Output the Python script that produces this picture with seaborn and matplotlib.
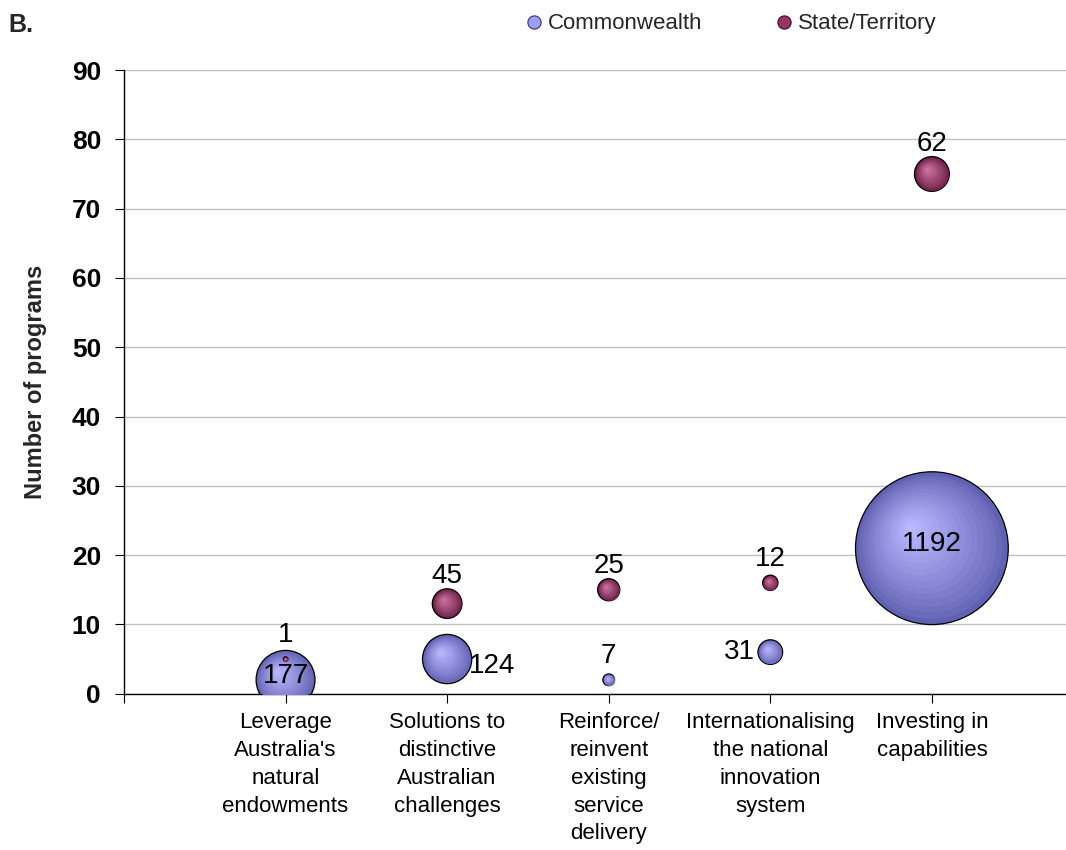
import numpy as np
import pandas as pd
import matplotlib
matplotlib.use("Agg")
import matplotlib.pyplot as plt
from matplotlib.transforms import offset_copy
from matplotlib.lines import Line2D
import seaborn as sns

# ---- data -------------------------------------------------------------
categories = [
    "Leverage\nAustralia's\nnatural\nendowments",
    "Solutions to\ndistinctive\nAustralian\nchallenges",
    "Reinforce/\nreinvent\nexisting\nservice\ndelivery",
    "Internationalising\nthe national\ninnovation\nsystem",
    "Investing in\ncapabilities",
]
commonwealth_programs = [2, 5, 2, 6, 21]
commonwealth_funding = [177, 124, 7, 31, 1192]
state_programs = [5, 13, 15, 16, 75]
state_funding = [1, 45, 25, 12, 62]
y_ticks = list(range(0, 100, 10))
series_names = ["Commonwealth", "State/Territory"]

# ---- style ------------------------------------------------------------
sns.set_theme(style="white")
plt.rcParams["font.family"] = ["Liberation Sans", "DejaVu Sans"]

FONT = "Liberation Sans"
SIZE_MAX = 12100.0          # marker area (pt^2) of the largest bubble
SIZE_NORM = (0, max(commonwealth_funding + state_funding))

CW_DARK, CW_LIGHT = np.array([0.38, 0.38, 0.70]), np.array([0.72, 0.72, 1.00])
ST_DARK, ST_LIGHT = np.array([0.42, 0.11, 0.27]), np.array([0.80, 0.45, 0.62])

x_pos = np.arange(1, len(categories) + 1)

fig = plt.figure(figsize=(10.66, 8.5), dpi=100)
ax = fig.add_axes([0.1163, 0.1839, 1.0 - 0.1163, 0.9176 - 0.1839])
ax.set_axisbelow(True)


def area(v):
    return SIZE_MAX * v / SIZE_NORM[1]


def shade(xs, ys, vals, dark, light, n=16):
    """Radial highlight layered over each bubble, brightest toward upper left."""
    for x, y, v in zip(xs, ys, vals):
        s = area(v)
        r = np.sqrt(s) / 2.0
        for i in range(1, n):
            f = 1.0 - i / n
            t = (i / (n - 1)) ** 0.85
            col = dark + (light - dark) * t
            shift = 0.30 * r * (1.0 - f)
            tr = offset_copy(ax.transData, fig=fig, x=-shift, y=shift, units="points")
            ax.scatter([x], [y], s=s * f * f, color=col, linewidths=0,
                       transform=tr, zorder=3)


def bubbles(yvals, vals, dark, light):
    df = pd.DataFrame({"x": x_pos, "y": yvals, "n": vals})
    sns.scatterplot(data=df, x="x", y="y", size="n", sizes=(0, SIZE_MAX),
                    size_norm=SIZE_NORM, color=dark, edgecolor="black",
                    linewidth=0.9, legend=False, ax=ax, zorder=3)
    shade(x_pos, yvals, vals, dark, light)


bubbles(commonwealth_programs, commonwealth_funding, CW_DARK, CW_LIGHT)
bubbles(state_programs, state_funding, ST_DARK, ST_LIGHT)

# ---- data labels ------------------------------------------------------
label_kw = dict(fontsize=20, color="black", fontfamily=FONT, zorder=5,
                textcoords="offset points", annotation_clip=False)
cw_place = ["center", "right", "above", "left", "center"]
for x, y, v, where in zip(x_pos, commonwealth_programs, commonwealth_funding, cw_place):
    r = np.sqrt(area(v)) / 2.0
    if where == "center":
        ax.annotate(f"{v}", (x, y), xytext=(0, 3), ha="center", va="center", **label_kw)
    elif where == "right":
        ax.annotate(f"{v}", (x, y), xytext=(r - 2, -5), ha="left", va="center", **label_kw)
    elif where == "left":
        ax.annotate(f"{v}", (x, y), xytext=(-r - 2, 0), ha="right", va="center", **label_kw)
    else:
        ax.annotate(f"{v}", (x, y), xytext=(0, 17), ha="center", va="center", **label_kw)

for x, y, v in zip(x_pos, state_programs, state_funding):
    r = np.sqrt(area(v)) / 2.0
    ax.annotate(f"{v}", (x, y), xytext=(0, max(17, r + 9)), ha="center", va="center", **label_kw)

# ---- axes -------------------------------------------------------------
ax.set_xlim(0, 5.83)
ax.set_ylim(0, 90)
ax.set_yticks(y_ticks)
ax.set_yticklabels([str(t) for t in y_ticks], fontsize=19, fontweight="bold", fontfamily=FONT)
ax.set_xticks([0] + list(x_pos))
ax.set_xticklabels([""] + categories, fontsize=16, fontfamily=FONT, linespacing=1.42)
ax.tick_params(axis="y", direction="out", length=6.5, width=0.8, pad=10, colors="black",
               left=True)
ax.tick_params(axis="x", direction="out", length=6.5, width=0.8, pad=7, colors="black",
               bottom=True)
ax.grid(axis="y", color="#C0C0C0", linewidth=1.0)
ax.grid(axis="x", visible=False)
for side in ("top", "right"):
    ax.spines[side].set_visible(False)
for side in ("left", "bottom"):
    ax.spines[side].set_visible(True)
    ax.spines[side].set_color("black")
    ax.spines[side].set_linewidth(1.0)
ax.set_xlabel("")
ax.set_ylabel("Number of programs", fontsize=17, fontweight="bold", fontfamily=FONT,
              labelpad=18)

# ---- legend and panel letter -------------------------------------------
handles = [
    Line2D([], [], linestyle="none", marker="o", markersize=9.5,
           markerfacecolor=(0.62, 0.62, 1.0), markeredgecolor="#333366", markeredgewidth=0.8),
    Line2D([], [], linestyle="none", marker="o", markersize=9.5,
           markerfacecolor=(0.60, 0.20, 0.40), markeredgecolor="#331122", markeredgewidth=0.8),
]
fig.legend(handles, series_names, loc="center", bbox_to_anchor=(0.686, 0.972), ncol=2,
           frameon=False, prop={"family": FONT, "size": 16}, handlelength=0.7,
           handletextpad=0.3, columnspacing=3.3)
fig.text(0.0075, 0.970, "B.", fontsize=18, fontweight="bold", fontfamily=FONT,
         ha="left", va="center")

fig.savefig("out.png", dpi=100)
